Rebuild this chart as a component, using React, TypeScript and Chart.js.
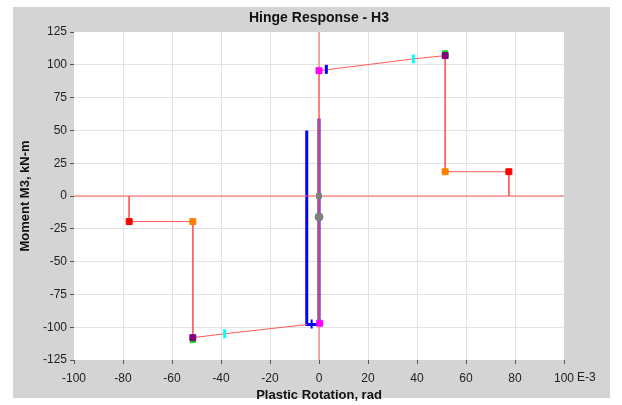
import React, { useEffect, useRef } from 'react';
import { Chart, registerables } from 'chart.js';

Chart.register(...registerables);

// ---- data ----
const xTickValues = [-100, -80, -60, -40, -20, 0, 20, 40, 60, 80, 100];
const yTickValues = [-125, -100, -75, -50, -25, 0, 25, 50, 75, 100, 125];

const axisHX = [-100, 100];
const axisHY = [0, 0];
const axisVX = [0, 0];
const axisVY = [-125, 125];

const backboneX = [-77.5, -77.5, -51.5, -51.5, -38.5, 0, 0, 38.5, 51.5, 51.5, 77.5, 77.5];
const backboneY = [0, -19.5, -19.5, -108, -105, -97, 95.5, 104.5, 107, 18.5, 18.5, 0];

const responseX = [0, 0, -5, -5];
const responseY = [59, -98, -98, 50];

const redX = [-77.5, 77.5];
const redY = [-19.5, 18.5];
const orangeX = [-51.5, 51.5];
const orangeY = [-19.5, 18.5];
const greenX = [-51.5, 51.5];
const greenY = [-109.8, 108.8];
const purpleX = [-51.5, 51.5];
const purpleY = [-108, 107];
const cyanX = [-38.5, 38.5];
const cyanY = [-105, 104.5];
const magentaX = [0.3, 0];
const magentaY = [-97, 95.5];
const blueMarkX = [3, -3];
const blueMarkY = [96.5, -97.5];
const grayX = [0, 0];
const grayY = [0, -16];

const pts = (xs: number[], ys: number[]) => xs.map((x, i) => ({ x, y: ys[i] }));

const FONT = "'Liberation Sans', Arial, sans-serif";

const bgPlugin = {
  id: 'bgPlugin',
  beforeDraw(chart: any) {
    const { ctx, chartArea: a } = chart;
    ctx.save();
    ctx.fillStyle = '#ffffff';
    ctx.fillRect(0, 0, chart.width, chart.height);
    ctx.fillStyle = '#d4d4d4';
    ctx.fillRect(13, 7, 597, 391);
    ctx.fillStyle = '#ffffff';
    ctx.fillRect(a.left, a.top, a.right - a.left, a.bottom - a.top);
    ctx.restore();
  },
  afterDraw(chart: any) {
    const { ctx, chartArea: a } = chart;
    ctx.save();
    ctx.fillStyle = '#111';
    ctx.font = `bold 14px ${FONT}`;
    ctx.textAlign = 'center';
    ctx.textBaseline = 'middle';
    ctx.fillText('Hinge Response - H3', (a.left + a.right) / 2, 18);
    ctx.font = `12px ${FONT}`;
    ctx.textAlign = 'left';
    ctx.fillStyle = '#222';
    ctx.fillText('E-3', a.right + 13, a.bottom + 18);
    ctx.restore();
  },
};

export default function App() {
  const ref = useRef<HTMLCanvasElement>(null);
  useEffect(() => {
    const lineDs = (label: string, data: any[], color: string, width: number, order: number) => ({
      label,
      data,
      showLine: true,
      borderColor: color,
      borderWidth: width,
      pointRadius: 0,
      fill: false,
      order,
    });
    const markDs = (label: string, data: any[], color: string, style: any, radius: number | number[], order: number, extra: any = {}) => ({
      label,
      data,
      showLine: false,
      pointStyle: style,
      pointRadius: radius,
      pointBackgroundColor: color,
      pointBorderColor: color,
      pointBorderWidth: 1,
      order,
      ...extra,
    });
    const chart = new Chart(ref.current!, {
      type: 'scatter',
      data: {
        datasets: [
          lineDs('response', pts(responseX, responseY), '#0000ff', 3, 20),
          lineDs('axisH', pts(axisHX, axisHY), '#ff5a5a', 1, 15),
          lineDs('axisV', pts(axisVX, axisVY), '#ff5a5a', 1, 14),
          lineDs('backbone', pts(backboneX, backboneY), '#ff5a5a', 1, 13),
          markDs('red', pts(redX, redY), '#ff0000', 'rect', 4.2, 9),
          markDs('orange', pts(orangeX, orangeY), '#ff8000', 'rect', 4.2, 8),
          markDs('green', pts(greenX, greenY), '#00e000', 'rect', 3.5, 7),
          markDs('purple', pts(purpleX, purpleY), '#800080', 'rect', 4.2, 6),
          markDs('cyan', pts(cyanX, cyanY), '#00ffff', 'line', 4.5, 5, { pointRotation: 90, pointBorderWidth: 3 }),
          markDs('magenta', pts(magentaX, magentaY), '#ff00ff', 'rect', 4.2, 4),
          markDs('blueMark', pts(blueMarkX, blueMarkY), '#0000ff', ['line', 'cross'], 4.5, 3, { pointRotation: [90, 0], pointBorderWidth: [3, 2] }),
          markDs('gray', pts(grayX, grayY), '#808080', ['rect', 'circle'], [3.5, 4], 2),
        ] as any,
      },
      options: {
        animation: false,
        responsive: false,
        devicePixelRatio: 1,
        layout: { padding: { left: 13, right: 58, top: 32, bottom: 0 } },
        plugins: { legend: { display: false }, tooltip: { enabled: false }, title: { display: false } },
        scales: {
          x: {
            type: 'linear',
            min: -100,
            max: 100,
            afterFit: (s: any) => { s.height = 45; },
            afterBuildTicks: (s: any) => { s.ticks = xTickValues.map((v) => ({ value: v })); },
            border: { display: false },
            grid: {
              color: (c: any) => (c.tick && (c.tick.value === -100 || c.tick.value === 100) ? 'rgba(0,0,0,0)' : '#e2e2e2'),
              tickColor: '#555',
              tickLength: 4,
              lineWidth: 1,
            },
            ticks: { font: { family: FONT, size: 12 }, color: '#222', padding: 7, maxRotation: 0, autoSkip: false },
            title: { display: true, text: 'Plastic Rotation, rad', font: { family: FONT, size: 13, weight: 'bold' }, color: '#111', padding: { top: 2, bottom: 2 } },
          },
          y: {
            type: 'linear',
            min: -125,
            max: 125,
            afterFit: (s: any) => { s.width = 61; },
            afterBuildTicks: (s: any) => { s.ticks = yTickValues.map((v) => ({ value: v })); },
            border: { display: false },
            grid: {
              color: (c: any) => (c.tick && (c.tick.value === -125 || c.tick.value === 125) ? 'rgba(0,0,0,0)' : '#e2e2e2'),
              tickColor: '#555',
              tickLength: 4,
              lineWidth: 1,
            },
            ticks: { font: { family: FONT, size: 12 }, color: '#222', padding: 3, autoSkip: false },
            title: { display: true, text: 'Moment M3, kN-m', font: { family: FONT, size: 13, weight: 'bold' }, color: '#111', padding: { top: 5, bottom: 2 } },
          },
        },
      } as any,
      plugins: [bgPlugin],
    });
    return () => chart.destroy();
  }, []);
  return (
    <div style={{ position: 'absolute', left: 0, top: 0, width: 622, height: 405 }}>
      <canvas ref={ref} width={622} height={405} style={{ display: 'block', width: 622, height: 405 }} />
    </div>
  );
}
